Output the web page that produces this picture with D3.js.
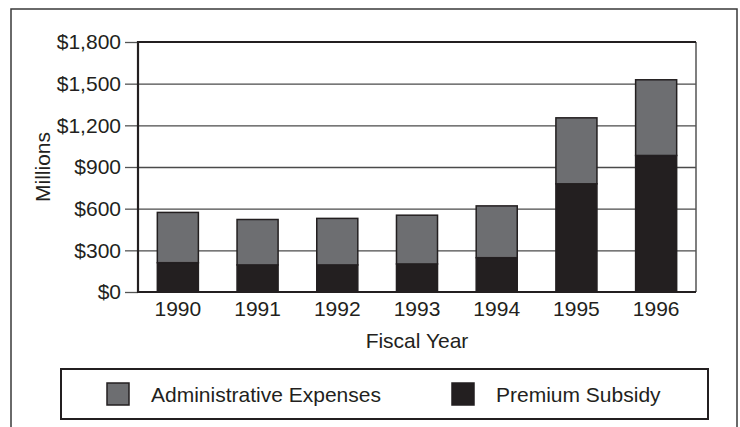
<!DOCTYPE html>
<html>
<head>
<meta charset="utf-8">
<script src="https://cdn.jsdelivr.net/npm/d3@7"></script>
<style>
  html, body { margin: 0; padding: 0; background: #fff; }
  svg { display: block; font-family: "Liberation Sans", Arial, Helvetica, sans-serif; }
</style>
</head>
<body>
<svg id="chart" width="740" height="427"></svg>
<script>
// ---- data ----
const years = ["1990", "1991", "1992", "1993", "1994", "1995", "1996"];
const premiumSubsidy = [211, 195, 195, 202, 247, 779, 983];
const adminExpenses = [362, 327, 335, 351, 373, 475, 545];
const yTicks = [0, 300, 600, 900, 1200, 1500, 1800];
const seriesNames = ["Premium Subsidy", "Administrative Expenses"];
const legendOrder = ["Administrative Expenses", "Premium Subsidy"];

// ---- styles ----
const colors = { "Premium Subsidy": "#231f20", "Administrative Expenses": "#6d6e71" };
const ink = "#231f20";
const FS = 21;

const svg = d3.select("#chart");
const W = 740, H = 427;
const plot = { left: 138, right: 696, top: 42, bottom: 292 };

// outer frame (open at bottom)
svg.append("path")
  .attr("d", `M11,${H} L11,9 L737,9 L737,${H}`)
  .attr("fill", "none").attr("stroke", "#3a3a3a").attr("stroke-width", 1.5);

const x = d3.scaleBand().domain(years)
  .range([plot.left, plot.right])
  .paddingInner(0.485).paddingOuter(0.2425);
const y = d3.scaleLinear().domain([0, 1800]).range([plot.bottom, plot.top]);

// gridlines
const grid = svg.append("g").attr("transform", `translate(${plot.left},0)`)
  .call(d3.axisLeft(y).tickValues(yTicks.slice(1, -1)).tickSize(-(plot.right - plot.left)).tickFormat(""));
grid.select(".domain").remove();
grid.selectAll("line").attr("stroke", "#4a4a4a").attr("stroke-width", 1.3);

// right border
svg.append("line").attr("x1", plot.right).attr("x2", plot.right)
  .attr("y1", plot.top).attr("y2", plot.bottom)
  .attr("stroke", "#555").attr("stroke-width", 1.5);
// top border
svg.append("line").attr("x1", plot.left).attr("x2", plot.right)
  .attr("y1", plot.top).attr("y2", plot.top)
  .attr("stroke", ink).attr("stroke-width", 2);

// bars
const table = years.map((yr, i) => ({ year: yr, "Premium Subsidy": premiumSubsidy[i], "Administrative Expenses": adminExpenses[i] }));
const stacked = d3.stack().keys(seriesNames)(table);

svg.append("g").selectAll("g").data(stacked).join("g")
  .attr("fill", d => colors[d.key])
  .selectAll("rect").data(d => d).join("rect")
  .attr("x", d => x(d.data.year))
  .attr("width", x.bandwidth())
  .attr("y", d => y(d[1]))
  .attr("height", d => y(d[0]) - y(d[1]))
  .attr("stroke", ink).attr("stroke-width", 1.5);

// y axis
const yAxis = svg.append("g").attr("transform", `translate(${plot.left},0)`)
  .call(d3.axisLeft(y).tickValues(yTicks).tickSize(13).tickPadding(4)
    .tickFormat(d => "$" + d3.format(",")(d)));
yAxis.select(".domain").remove();
yAxis.selectAll("line").attr("stroke", "#555").attr("stroke-width", 1.3);
yAxis.selectAll("text").attr("fill", ink).attr("font-size", FS)
  .attr("font-family", "Liberation Sans, Arial, sans-serif");

// left axis line
svg.append("line").attr("x1", plot.left).attr("x2", plot.left)
  .attr("y1", plot.top - 1).attr("y2", plot.bottom + 1)
  .attr("stroke", ink).attr("stroke-width", 2.2);

// x axis
const xAxis = svg.append("g").attr("transform", `translate(0,${plot.bottom})`)
  .call(d3.axisBottom(x).tickSize(0).tickPadding(9));
xAxis.select(".domain").attr("stroke", ink).attr("stroke-width", 2.2)
  .attr("d", `M${plot.left - 1},0H${plot.right}`);
xAxis.selectAll("text").attr("fill", ink).attr("font-size", FS)
  .attr("font-family", "Liberation Sans, Arial, sans-serif");

// axis titles
svg.append("text").attr("x", (plot.left + plot.right) / 2).attr("y", 348)
  .attr("text-anchor", "middle").attr("font-size", FS).attr("fill", ink)
  .text("Fiscal Year");
svg.append("text").attr("transform", "translate(50,167) rotate(-90)")
  .attr("text-anchor", "middle").attr("font-size", FS).attr("fill", ink)
  .text("Millions");

// legend
svg.append("rect").attr("x", 61).attr("y", 369).attr("width", 647).attr("height", 50)
  .attr("fill", "#fff").attr("stroke", ink).attr("stroke-width", 2);
const legendX = [107, 452];
const lg = svg.append("g").selectAll("g").data(legendOrder).join("g")
  .attr("transform", (d, i) => `translate(${legendX[i]},383)`);
lg.append("rect").attr("width", 22).attr("height", 22)
  .attr("fill", d => colors[d]).attr("stroke", ink).attr("stroke-width", 1.5);
lg.append("text").attr("x", 44).attr("y", 19).attr("font-size", FS).attr("fill", ink)
  .text(d => d);
</script>
</body>
</html>
